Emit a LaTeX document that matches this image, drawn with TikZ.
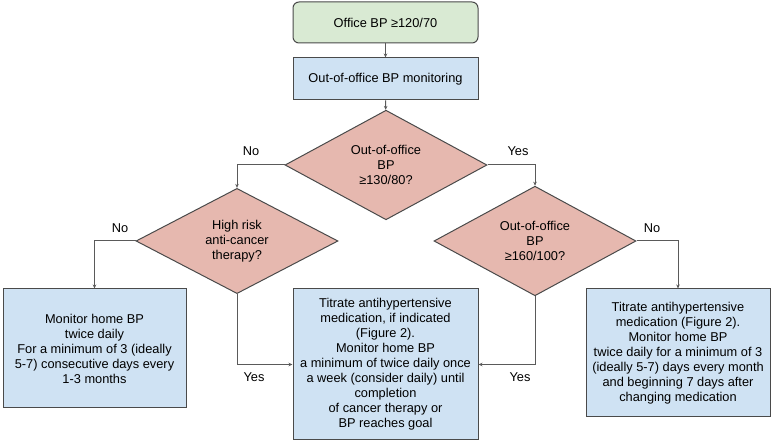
\documentclass[tikz,border=0pt]{standalone}
\usepackage{fontspec}
\setmainfont{Liberation Sans}
\usetikzlibrary{shapes.geometric,arrows.meta}
\definecolor{gfill}{HTML}{D9EAD3}
\definecolor{bfill}{HTML}{CFE2F3}
\definecolor{rfill}{HTML}{E6B8AF}
\definecolor{edge}{HTML}{4A4A4A}
\definecolor{lne}{HTML}{5A5A5A}
\tikzset{
  txt/.style={font=\fontsize{12.8}{15}\selectfont, align=center, text=black},
  startbox/.style={txt, draw=edge, line width=1pt, fill=gfill, rounded corners=6pt, minimum width=185pt, minimum height=41pt, inner sep=0pt},
  bluebox/.style={txt, draw=edge, line width=1pt, fill=bfill, inner sep=0pt},
  decide/.style={txt, diamond, draw=edge, line width=1pt, fill=rfill, minimum width=202pt, minimum height=97pt, inner sep=0pt},
  conn/.style={draw=lne, line width=1pt, -{Stealth[length=4pt,width=3.5pt]}},
  lbl/.style={txt, inner sep=0pt}
}
\begin{document}
\begin{tikzpicture}[x=1pt,y=-1pt]
\useasboundingbox (0,0) rectangle (772,443);
\node[startbox] (top) at (385.5,22.5) {Office BP ≥120/70};
\node[bluebox, minimum width=185pt, minimum height=42pt] (mon) at (385.5,79) {Out-of-office BP monitoring};
\node[decide] (d1) at (386,165) {Out-of-office\\BP\\≥130/80?};
\node[decide] (d2) at (237,241) {High risk\\anti-cancer\\therapy?};
\node[decide] (d3) at (535,241) {Out-of-office\\BP\\≥160/100?};
\node[bluebox, minimum width=183pt, minimum height=119pt] (left) at (94.5,348.5) {Monitor home BP\\twice daily\\For a minimum of 3 (ideally\\5-7) consecutive days every\\1-3 months};
\node[bluebox, minimum width=185pt, minimum height=151pt] (mid) at (385.5,364.5) {Titrate antihypertensive\\medication, if indicated\\(Figure 2).\\Monitor home BP\\a minimum of twice daily once\\a week (consider daily) until\\completion\\of cancer therapy or\\BP reaches goal};
\node[bluebox, minimum width=184pt, minimum height=128pt] (right) at (678,353) {Titrate antihypertensive\\medication (Figure 2).\\Monitor home BP\\twice daily for a minimum of 3\\(ideally 5-7) days every month\\and beginning 7 days after\\changing medication};
\draw[conn] (top) -- (mon);
\draw[conn] (mon) -- (d1);
\draw[conn] (d1.west) -| (d2.north);
\draw[conn] (d1.east) -| (d3.north);
\draw[conn] (d2.west) -| (left.north);
\draw[conn] (d2.south) |- (mid.west);
\draw[conn] (d3.south) |- (mid.east);
\draw[conn] (d3.east) -| (right.north);
\node[lbl] (l1) at (251,151) {No};
\node[lbl] (l2) at (518,151) {Yes};
\node[lbl] (l3) at (120,228) {No};
\node[lbl] (l4) at (254,377) {Yes};
\node[lbl] (l5) at (520,377) {Yes};
\node[lbl] (l6) at (652,228) {No};
\end{tikzpicture}
\end{document}
